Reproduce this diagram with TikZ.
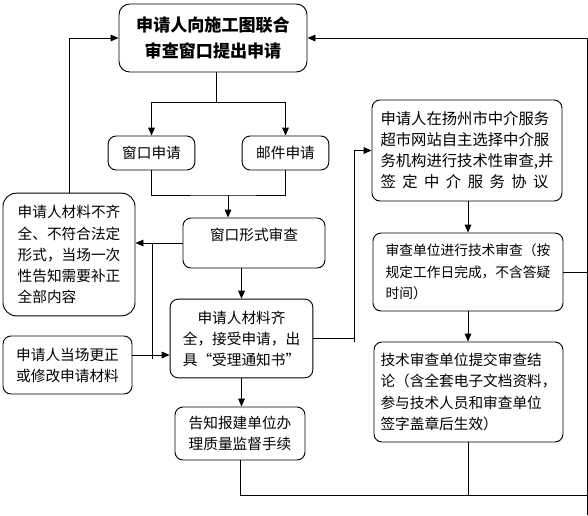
\documentclass[tikz,border=0pt]{standalone}
\usepackage{fontspec}
\setmainfont{Noto Sans CJK SC}
\usetikzlibrary{arrows.meta}

\begin{document}
\begin{tikzpicture}[x=0.75pt, y=-0.75pt, line width=0.7pt, >={Triangle[length=6pt,width=5pt]},
      every node/.style={draw, rounded corners=6pt, inner sep=2pt, align=center, font=\fontsize{11}{15.8}\selectfont}]
      \useasboundingbox (0,0) rectangle (588,515);

      \node[minimum width=141pt, minimum height=51pt, rounded corners=8pt, font=\fontsize{12.8}{19.5}\selectfont\bfseries] (top) at (213,38) {申请人向施工图联合\\审查窗口提出申请};
      \node[minimum width=65pt, minimum height=25.5pt] (ck) at (151.5,153) {窗口申请};
      \node[minimum width=65pt, minimum height=25.5pt] (yj) at (285.5,153) {邮件申请};
      \node[minimum width=106.5pt, minimum height=37.5pt, text height=8pt, text depth=12pt] (xs) at (254,243) {窗口形式审查};
      \node[minimum width=99pt, minimum height=92pt, rounded corners=10pt, align=left] (bq) at (69,254.5) {申请人材料不齐\\全、不符合法定\\形式，当场一次\\性告知需要补正\\全部内容};
      \node[minimum width=96.75pt, minimum height=43.5pt] (dc) at (67.5,365) {申请人当场更正\\或修改申请材料};
      \node[minimum width=107pt, minimum height=59pt] (qq) at (241.5,338.5) {申请人材料齐\\全，接受申请，出\\具“受理通知书”};
      \node[minimum width=97.5pt, minimum height=39.75pt] (gz) at (240,433.5) {告知报建单位办\\理质量监督手续};
      \node[minimum width=142.5pt, minimum height=75.75pt, align=left, font=\fontsize{11.5}{15.8}\selectfont] (zj) at (467,150.5) {申请人在扬州市中介服务\\超市网站自主选择中介服\\务机构进行技术性审查,并\\\makebox[126pt][s]{签 定 中 介 服 务 协 议}};
      \node[minimum width=142.5pt, minimum height=58.5pt, align=left, font=\fontsize{10.3}{16}\selectfont] (sc) at (468,272) {审查单位进行技术审查（按\\规定工作日完成，不含答疑\\时间）};
      \node[minimum width=141.75pt, minimum height=75pt, align=left] (js) at (468.5,392) {技术审查单位提交审查结\\论（含全套电子文档资料，\\参与技术人员和审查单位\\签字盖章后生效）};

      \coordinate (sp) at (216,102);
      \coordinate (jn) at (228,195);
      \coordinate (vx) at (152,359);
      \coordinate (rv) at (354,342);
      \coordinate (br) at (587,495);
      \coordinate (rt) at (587,515);

      \draw (top.south -| sp) -- (sp);
      \draw[->] (sp) -| (ck);
      \draw[->] (sp) -| (yj);
      \draw (ck.south) |- (jn) -| (yj.south);
      \draw[->] (jn) -- (jn |- xs.north);
      \draw[->] (xs.west) -- (xs.west -| bq.east);
      \draw (vx |- xs.west) -- (vx);
      \draw[->] ([yshift=7.5pt]dc.east) -- ([yshift=7.5pt]dc.east -| qq.west);
      \draw[->] (bq.north) |- (top.west);
      \draw[->] (qq.north |- xs.south) -- (qq.north);
      \draw[->] (qq.south) -- (qq.south |- gz.north);
      \draw (qq.east) -- (qq.east -| rv);
      \draw[->] (rv) |- (zj.west);
      \draw[->] (zj.south -| 468,0) -- (sc.north -| 468,0);
      \draw[->] (sc.south -| 468,0) -- (js.north -| 468,0);
      \draw (gz.south) |- (br);
      \draw (js.south) -- (js.south |- br);
      \draw (sc.east) -- (sc.east -| br);
      \draw[->] (rt) |- (top.east);
    \end{tikzpicture}
\end{document}
